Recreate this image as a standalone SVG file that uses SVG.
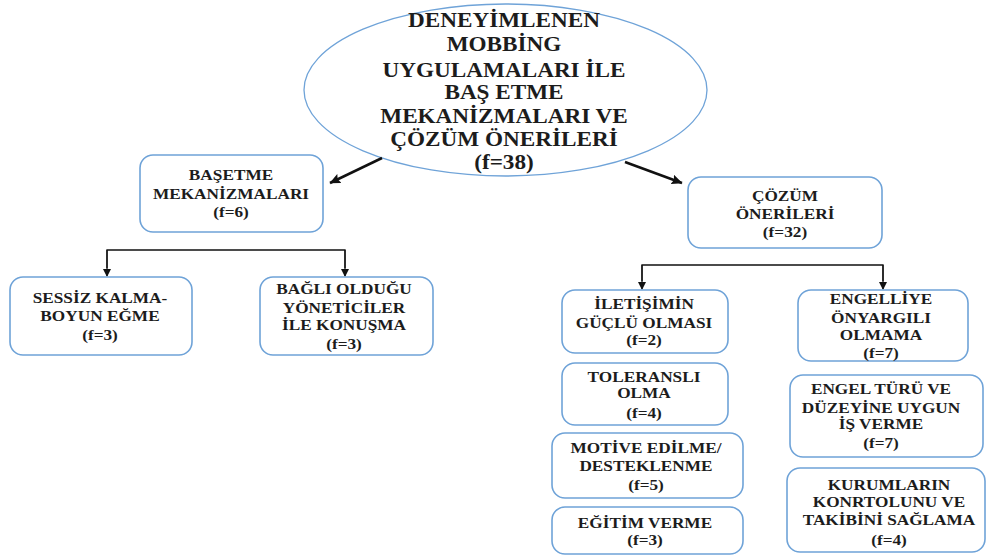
<svg xmlns="http://www.w3.org/2000/svg" width="986" height="556" viewBox="0 0 986 556">
  <style>
    .box { fill: #ffffff; stroke: #6fa3d8; stroke-width: 1.6; }
    .big { stroke: #111; stroke-width: 2.5; fill: none; }
    .thin { stroke: #111; stroke-width: 1.3; fill: none; }
  </style>
  <defs>
    <marker id="headBig" markerUnits="userSpaceOnUse" markerWidth="12" markerHeight="10" refX="10.5" refY="5" orient="auto">
      <path d="M0,0 L11,5 L0,10 L2,5 z" fill="#111"/>
    </marker>
    <marker id="headSmall" markerUnits="userSpaceOnUse" markerWidth="8" markerHeight="8" refX="7" refY="4" orient="auto">
      <path d="M0,0 L8,4 L0,8 z" fill="#111"/>
    </marker>
  </defs>
  <rect width="986" height="556" fill="#ffffff"/>

  <!-- root ellipse outline, behind its text -->
  <ellipse id="rootShape" cx="505.5" cy="90" rx="201.5" ry="86" fill="#ffffff" stroke="#6fa3d8" stroke-width="1.3"/>

  <!-- connectors -->
  <g id="connectors">
    <line class="big" x1="382" y1="158" x2="330" y2="183" marker-end="url(#headBig)"/>
    <line class="big" x1="625" y1="162" x2="682" y2="183" marker-end="url(#headBig)"/>
    <polyline class="thin" points="107,268 107,250 345,250 345,268"/>
    <line class="thin" x1="107" y1="250" x2="107" y2="276" marker-end="url(#headSmall)"/>
    <line class="thin" x1="345" y1="250" x2="345" y2="276" marker-end="url(#headSmall)"/>
    <polyline class="thin" points="642,281 642,265 883,265 883,281"/>
    <line class="thin" x1="642" y1="265" x2="642" y2="289" marker-end="url(#headSmall)"/>
    <line class="thin" x1="883" y1="265" x2="883" y2="289" marker-end="url(#headSmall)"/>
  </g>

  <!-- all labels: bold serif, slightly widened -->
  <g font-family="Liberation Serif, Times New Roman, serif" font-weight="bold" fill="#1c1c1c" text-anchor="middle">
    <g id="root">
      <g transform="translate(504 0) scale(1.16 1)" font-size="20">
        <text x="0" y="27">DENEYİMLENEN</text>
        <text x="0" y="51">MOBBİNG</text>
        <text x="0" y="77">UYGULAMALARI İLE</text>
        <text x="0" y="99">BAŞ ETME</text>
        <text x="0" y="123">MEKANİZMALARI VE</text>
        <text x="0" y="146">ÇÖZÜM ÖNERİLERİ</text>
        <text x="0" y="169">(f=38)</text>
      </g>
    </g>

    <g id="basetme">
      <rect class="box" x="140" y="155" width="183" height="77" rx="13"/>
      <g transform="translate(231 0) scale(1.15 1)" font-size="15">
        <text x="0" y="180">BAŞETME</text>
        <text x="0" y="199">MEKANİZMALARI</text>
        <text x="0" y="217">(f=6)</text>
      </g>
    </g>

    <g id="sessiz">
      <rect class="box" x="10" y="277" width="182" height="78" rx="13"/>
      <g transform="translate(100 0) scale(1.15 1)" font-size="15">
        <text x="0" y="303">SESSİZ KALMA-</text>
        <text x="0" y="321">BOYUN EĞME</text>
        <text x="0" y="340">(f=3)</text>
      </g>
    </g>

    <g id="bagli">
      <rect class="box" x="260" y="277" width="173" height="78" rx="13"/>
      <g transform="translate(344 0) scale(1.15 1)" font-size="15">
        <text x="0" y="294">BAĞLI OLDUĞU</text>
        <text x="0" y="313">YÖNETİCİLER</text>
        <text x="0" y="330">İLE KONUŞMA</text>
        <text x="0" y="349">(f=3)</text>
      </g>
    </g>

    <g id="cozum">
      <rect class="box" x="688" y="177" width="194" height="71" rx="13"/>
      <g transform="translate(785 0) scale(1.15 1)" font-size="15">
        <text x="0" y="201">ÇÖZÜM</text>
        <text x="0" y="219">ÖNERİLERİ</text>
        <text x="0" y="237">(f=32)</text>
      </g>
    </g>

    <g id="iletisim">
      <rect class="box" x="562" y="290" width="166" height="63" rx="13"/>
      <g transform="translate(644 0) scale(1.15 1)" font-size="15">
        <text x="0" y="309">İLETİŞİMİN</text>
        <text x="0" y="328">GÜÇLÜ OLMASI</text>
        <text x="0" y="345">(f=2)</text>
      </g>
    </g>

    <g id="toleransli">
      <rect class="box" x="562" y="363" width="166" height="62" rx="13"/>
      <g transform="translate(644 0) scale(1.15 1)" font-size="15">
        <text x="0" y="382">TOLERANSLI</text>
        <text x="0" y="398">OLMA</text>
        <text x="0" y="418">(f=4)</text>
      </g>
    </g>

    <g id="motive">
      <rect class="box" x="552" y="433" width="191" height="65" rx="13"/>
      <g transform="translate(646 0) scale(1.15 1)" font-size="15">
        <text x="0" y="453">MOTİVE EDİLME/</text>
        <text x="0" y="471">DESTEKLENME</text>
        <text x="0" y="490">(f=5)</text>
      </g>
    </g>

    <g id="egitim">
      <rect class="box" x="552" y="507" width="191" height="47" rx="13"/>
      <g transform="translate(645 0) scale(1.15 1)" font-size="15">
        <text x="0" y="528">EĞİTİM VERME</text>
        <text x="0" y="545">(f=3)</text>
      </g>
    </g>

    <g id="engelliye">
      <rect class="box" x="798" y="290" width="170" height="71" rx="13"/>
      <g transform="translate(881 0) scale(1.15 1)" font-size="15">
        <text x="0" y="304">ENGELLİYE</text>
        <text x="0" y="323">ÖNYARGILI</text>
        <text x="0" y="340">OLMAMA</text>
        <text x="0" y="358">(f=7)</text>
      </g>
    </g>

    <g id="engelturu">
      <rect class="box" x="790" y="375" width="193" height="82" rx="13"/>
      <g transform="translate(881 0) scale(1.15 1)" font-size="15">
        <text x="0" y="394">ENGEL TÜRÜ VE</text>
        <text x="0" y="413">DÜZEYİNE UYGUN</text>
        <text x="0" y="429">İŞ VERME</text>
        <text x="0" y="448">(f=7)</text>
      </g>
    </g>

    <g id="kurumlar">
      <rect class="box" x="787" y="468" width="198" height="84" rx="13"/>
      <g transform="translate(889 0) scale(1.15 1)" font-size="15">
        <text x="0" y="490">KURUMLARIN</text>
        <text x="0" y="507">KONRTOLUNU VE</text>
        <text x="0" y="525">TAKİBİNİ SAĞLAMA</text>
        <text x="0" y="545">(f=4)</text>
      </g>
    </g>
  </g>
</svg>
